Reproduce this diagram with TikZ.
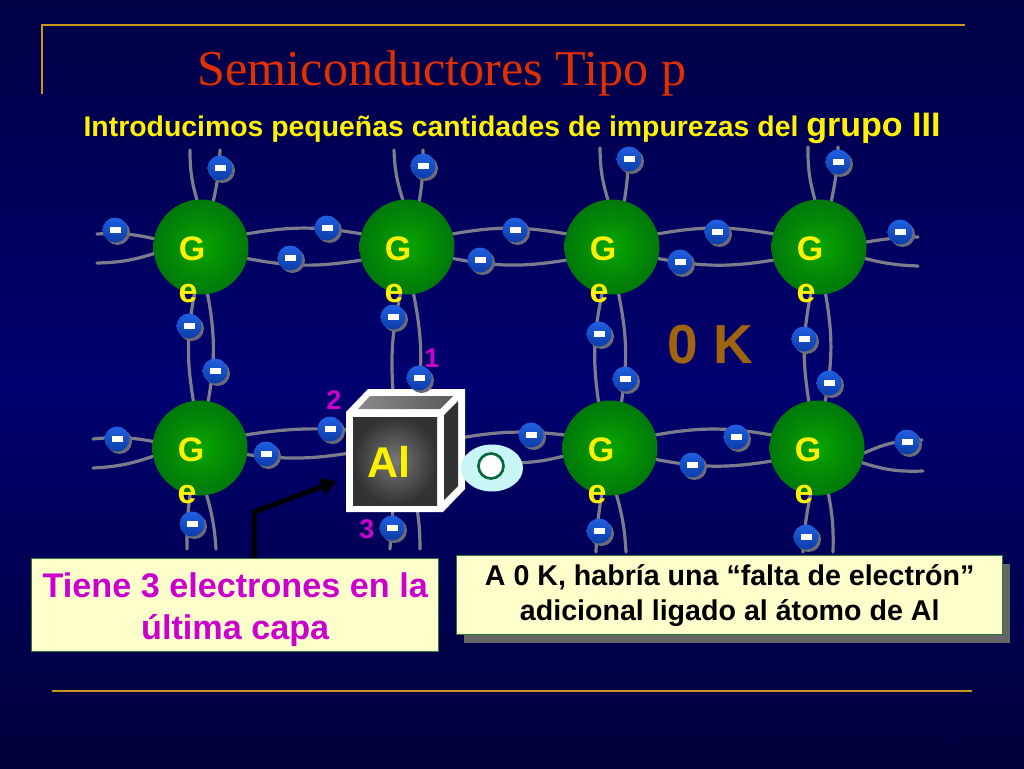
\documentclass[tikz,border=0pt]{standalone}
\usepackage{fontspec}
\setmainfont{Liberation Sans}
\newfontfamily\serifttl{Liberation Serif}
\usetikzlibrary{shapes.geometric,arrows.meta}
\definecolor{gold}{HTML}{C8961E}
\definecolor{mag}{HTML}{CC00CC}
\definecolor{bondgray}{HTML}{7C7C8C}
\definecolor{cream}{HTML}{FFFFCC}
\definecolor{boxline}{HTML}{2A7A3A}
\definecolor{elecA}{HTML}{1F5FE0}
\definecolor{elecB}{HTML}{0C3CA8}
\definecolor{shadowgray}{HTML}{6A6A78}
\definecolor{bgtop}{HTML}{000044}
\definecolor{bgmid}{HTML}{000070}
\definecolor{bgbot}{HTML}{000038}
\definecolor{ttlred}{HTML}{E03000}
\definecolor{brownk}{HTML}{A0640F}
\definecolor{pagenum}{HTML}{000046}
\definecolor{ballin}{HTML}{08A500}
\definecolor{ballout}{HTML}{00780A}
\definecolor{holefill}{HTML}{C8F5F5}
\definecolor{holeline}{HTML}{0A693C}
\definecolor{boxshadow}{HTML}{666666}
\definecolor{cubetopA}{HTML}{8A8A8A}
\definecolor{cubetopB}{HTML}{5A5A5A}
\definecolor{cubeside}{HTML}{323232}
\definecolor{cubein}{HTML}{787878}
\definecolor{cubeout}{HTML}{323232}
\tikzset{
  x=1pt,y=-1pt,
  goldline/.style={draw=gold,line width=2.6pt},
  bond/.style={draw=bondgray,line width=3.2pt,line cap=round},
  atomanchor/.style={circle,minimum size=95pt,inner sep=0pt,outer sep=0pt},
  gelabel/.style={text=yellow,font=\fontsize{34}{34}\bfseries\selectfont,inner sep=0pt},
  electron/.style={circle,minimum size=25pt,inner sep=0pt,outer sep=0pt,top color=elecA,bottom color=elecB},
  eshadow/.style={circle,minimum size=25pt,inner sep=0pt,fill=shadowgray},
  numlab/.style={text=mag,font=\fontsize{27}{27}\bfseries\selectfont,inner sep=0pt},
  notebox/.style={draw=boxline,line width=1.4pt,fill=cream,inner sep=0pt,anchor=north west,align=center},
}
\newcommand{\elec}[3]{%
  \node[eshadow] at (#2+2.5,#3+2.5) {};
  \node[electron] (#1) at (#2,#3) {};
  \fill[white] (#2-5.5,#3-2.8) rectangle (#2+5.5,#3+2.8);
}
\begin{document}
\begin{tikzpicture}
\useasboundingbox (0,0) rectangle (1024,768);
\shade[top color=bgtop,bottom color=bgmid] (0,0) rectangle (1024,384);
\shade[top color=bgmid,bottom color=bgbot] (0,384) rectangle (1024,768);
% lines
\draw[goldline] (42,94) -- (42,25) -- (965,25);
\draw[goldline] (52,691) -- (972,691);
% texts
\node[text=ttlred,font=\serifttl\fontsize{50.2}{50}\selectfont,inner sep=0pt,anchor=base] (title) at (442,85) {Semiconductores Tipo p};
\node[text=yellow,font=\bfseries,inner sep=0pt,anchor=base] (sub) at (512,136) {\fontsize{28.4}{29}\selectfont Introducimos pequeñas cantidades de impurezas del \fontsize{34}{34}\selectfont grupo III};
\node[text=brownk,font=\fontsize{55}{55}\bfseries\selectfont,inner sep=0pt] (zk) at (710,345) {0 K};
\node[text=pagenum,font=\fontsize{14}{14}\selectfont,inner sep=0pt] (pg) at (953,737) {11};
% atoms
\foreach \n/\x/\y in {a1/201/247,a2/407/247,a3/612/247,a4/819/247,a5/200/448,a6/610/448,a7/817/448}{
  \node[atomanchor] (\n) at (\x,\y) {};
}
\coordinate (cubeW1) at (350,430); \coordinate (cubeW2) at (350,453);
\coordinate (cubeE1) at (460,438); \coordinate (cubeE2) at (515,463);
\coordinate (cubeN1) at (393,392); \coordinate (cubeN2) at (419,392);
\coordinate (cubeS1) at (393,508); \coordinate (cubeS2) at (417,508);
% horizontal bonds
\draw[bond] (a1.16) to[bend left=10] (a2.164);
\draw[bond] (a1.-14) to[bend right=10] (a2.-164);
\draw[bond] (a2.16) to[bend left=10] (a3.164);
\draw[bond] (a2.-14) to[bend right=10] (a3.-164);
\draw[bond] (a3.16) to[bend left=10] (a4.164);
\draw[bond] (a3.-14) to[bend right=10] (a4.-164);
\draw[bond] (a6.16) to[bend left=10] (a7.164);
\draw[bond] (a6.-14) to[bend right=10] (a7.-164);
\draw[bond] (a5.16) to[bend left=6] (cubeW1);
\draw[bond] (a5.-8) to[bend right=8] (cubeW2);
\draw[bond] (cubeE1) to[bend left=8] (a6.164);
\draw[bond] (cubeE2) to[bend right=6] (a6.-170);
% vertical bonds
\draw[bond] (a1.-98) to[bend right=10] (a5.98);
\draw[bond] (a1.-82) to[bend left=10] (a5.80);
\draw[bond] (a2.-98) to[bend right=8] (cubeN1);
\draw[bond] (a2.-82) to[bend left=8] (cubeN2);
\draw[bond] (a3.-102) to[bend right=10] (a6.104);
\draw[bond] (a3.-82) to[bend left=10] (a6.76);
\draw[bond] (a4.-100) to[bend right=10] (a7.100);
\draw[bond] (a4.-82) to[bend left=10] (a7.80);
% top stubs
\foreach \n/\a/\x/\y/\b in {
 a1/95/190/150/8,a1/75/220/150/-5,a2/95/394/150/8,a2/75/423/150/-5,
 a3/95/600/148/8,a3/75/628/150/-5,a4/95/808/147/8,a4/75/838/147/-5}{
  \draw[bond] (\n.\a) to[bend left=\b] (\x,\y);
}
% side stubs
\draw[bond] (a1.170) to[bend right=8] (97,234);
\draw[bond] (a1.-172) to[bend left=8] (97,263);
\draw[bond] (a5.172) to[bend right=8] (93,439);
\draw[bond] (a5.-170) to[bend left=8] (93,468);
\draw[bond] (a4.6) to[bend left=4] (918,237);
\draw[bond] (a4.-14) to[bend right=6] (918,266);
\draw[bond] (a7.-6) to[bend left=12] (922,440);
\draw[bond] (a7.-18) to[bend right=10] (923,471);
% bottom stubs
\draw[bond] (a5.-102) to[bend right=4] (187,549);
\draw[bond] (a5.-82) to[bend left=6] (216,549);
\draw[bond] (cubeS1) -- (390,549);
\draw[bond] (cubeS2) to[bend left=4] (420,549);
\draw[bond] (a6.-100) to[bend right=4] (596,552);
\draw[bond] (a6.-82) to[bend left=6] (626,552);
\draw[bond] (a7.-98) to[bend right=4] (803,552);
\draw[bond] (a7.-76) to[bend left=6] (833,552);
% atoms visible
\foreach \n/\x/\y in {a1/201/247,a2/407/247,a3/612/247,a4/819/247,a5/200/448,a6/610/448,a7/817/448}{
  \shade[inner color=ballin,outer color=ballout] (\x,\y) circle (47.5);
  \node[gelabel] at (\x-9,\y+2) {G};
  \node[gelabel] at (\x-13,\y+47) {e};
}
% cube
\fill[white] (346,412) -- (368,389) -- (465,389) -- (465,489) -- (443,512) -- (346,512) -- cycle;
\shade[left color=cubetopA,right color=cubetopB] (358,409) -- (370,396) -- (453,396) -- (440,409) -- cycle;
\fill[cubeside] (444,415) -- (458,401) -- (458,486) -- (444,500) -- cycle;
\shade[inner color=cubein,outer color=cubeout] (353,417) rectangle (437,505);
\node[text=yellow,font=\fontsize{43}{43}\bfseries\selectfont,inner sep=0pt] (al) at (389,462) {Al};
% vacancy
\node[ellipse,minimum width=62pt,minimum height=47pt,fill=holefill,inner sep=0pt] (hole) at (492,468) {};
\node[circle,minimum size=25pt,fill=white,draw=holeline,line width=2.7pt,inner sep=0pt] (holec) at (491,466) {};
% number labels
\node[numlab] (n1) at (432,358) {1};
\node[numlab] (n2) at (334,400) {2};
\node[numlab] (n3) at (367,529) {3};
% electrons
\elec{e1}{220}{168}\elec{e2}{115}{230}\elec{e3}{327}{228}\elec{e4}{290}{258}\elec{e5}{189}{326}
\elec{e6}{423}{166}\elec{e7}{393}{317}\elec{e8}{515}{230}\elec{e9}{480}{260}
\elec{e10}{629}{159}\elec{e11}{838}{162}\elec{e12}{717}{232}\elec{e13}{680}{262}\elec{e14}{900}{232}
\elec{e15}{599}{334}\elec{e16}{804}{339}\elec{e17}{215}{371}\elec{e18}{117}{439}\elec{e19}{266}{454}
\elec{e20}{192}{524}\elec{e21}{419}{378}\elec{e22}{330}{429}\elec{e23}{392}{528}\elec{e24}{531}{435}
\elec{e25}{625}{379}\elec{e26}{829}{383}\elec{e27}{736}{437}\elec{e28}{692}{465}\elec{e29}{907}{442}
\elec{e30}{599}{531}\elec{e31}{806}{537}
% boxes
\fill[boxshadow] (464,564) rectangle (1010,643);
\node[notebox,minimum width=546pt,minimum height=79pt,font=\fontsize{28.6}{35}\bfseries\selectfont] (box2) at (456,555) {A 0 K, habría una “falta de electrón”\\adicional ligado al átomo de Al};
\node[notebox,minimum width=407pt,minimum height=93pt,text=mag,font=\fontsize{34.2}{42}\bfseries\selectfont] (box1) at (31,558) {\rule{0pt}{34pt}Tiene 3 electrones en la\\última capa};
% arrow
\coordinate (arrtip) at (337,481);
\draw[line width=5pt,-{Triangle[length=16pt,width=17pt]}] (box1.north -| 254,0) -- (254,512) -- (arrtip);
\end{tikzpicture}
\end{document}
